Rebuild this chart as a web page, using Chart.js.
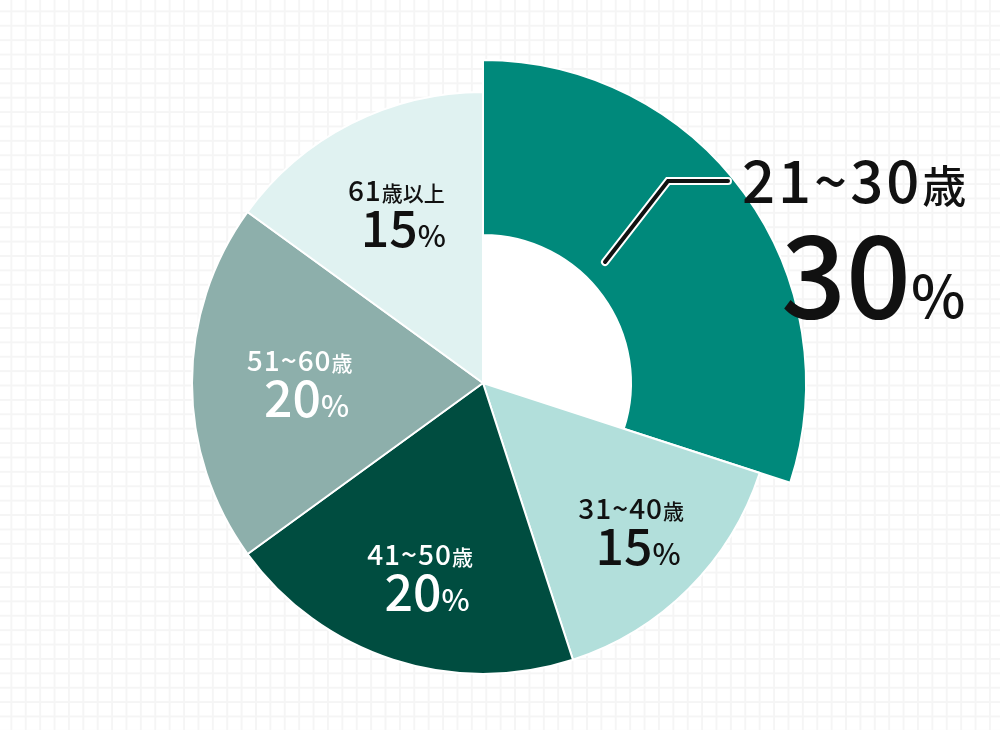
<!DOCTYPE html>
<html><head><meta charset="utf-8">
<script src="https://cdn.jsdelivr.net/npm/chart.js@4.4.1/dist/chart.umd.min.js"></script>
<style>
html,body{margin:0;padding:0;}
body{width:1000px;height:730px;overflow:hidden;background-color:#fff;
background-image:linear-gradient(#f5f5f5 2px, transparent 2px),linear-gradient(90deg,#f5f5f5 2px, transparent 2px);
background-size:14.4px 14.4px;background-position:-4px -4px;}
canvas{display:block;}
</style></head><body>
<canvas id="c" width="1000" height="730"></canvas>
<script>
const categories = ['21~30歳','31~40歳','41~50歳','51~60歳','61歳以上'];
const values = [30, 15, 20, 20, 15];
const sliceColors = ['#00897b','#b2dfdb','#004d40','#8dafab','#e0f2f1'];
const labelColors = ['#111111','#111111','#ffffff','#ffffff','#111111'];
const labelRadius = [0, 0.72, 0.70, 0.63, 0.656];

const FONT = '"Noto Sans CJK JP","Noto Sans",sans-serif';
const HL_OUTER = 323, HL_INNER = 148;

function splitName(s){ const m = s.match(/^([\d~]+)(.*)$/); return m ? [m[1], m[2]] : [s, '']; }

function drawParts(ctx, parts, x, y, align){
  // parts: [text, size, weight, letterSpacing]
  let total = 0;
  const setF = p => { ctx.font = `${p[2]} ${p[1]}px ${FONT}`; ctx.letterSpacing = (p[3]||0) + 'px'; };
  parts.forEach(p => { setF(p); p.w = ctx.measureText(p[0]).width; total += p.w; });
  let cx = align === 'center' ? x - total/2 : x;
  ctx.textAlign = 'left'; ctx.textBaseline = 'alphabetic';
  parts.forEach(p => { setF(p); ctx.fillText(p[0], cx, y); cx += p.w; });
  ctx.letterSpacing = '0px';
}

const highlight = {
  id: 'highlight',
  afterDatasetsUpdate(chart){
    const arcs = chart.getDatasetMeta(0).data;
    arcs[0].outerRadius = HL_OUTER;
    arcs[0].innerRadius = HL_INNER;
  },
  beforeDatasetsDraw(chart){
    const a = chart.getDatasetMeta(0).data[0];
    const ctx = chart.ctx;
    ctx.save(); ctx.fillStyle = '#ffffff';
    ctx.beginPath(); ctx.arc(a.x, a.y, HL_INNER, 0, Math.PI*2); ctx.fill(); ctx.restore();
  }
};

const labels = {
  id: 'labels',
  afterDatasetsDraw(chart){
    const ctx = chart.ctx;
    const arcs = chart.getDatasetMeta(0).data;
    const total = values.reduce((s,v)=>s+v,0);
    ctx.save();
    arcs.forEach((a,i)=>{
      const [num, unit] = splitName(categories[i]);
      const pct = Math.round(values[i]/total*100) + '';
      if(i === 0){
        const cx = a.x, cy = a.y;
        ctx.lineJoin = 'miter'; ctx.lineCap = 'round';
        const pts = [[cx+122, cy-121],[cx+185, cy-202],[cx+245, cy-202]];
        [[8,'#ffffff'],[4,'#111111']].forEach(([w,c])=>{
          ctx.lineWidth = w; ctx.strokeStyle = c; ctx.beginPath();
          pts.forEach((p,k)=> k ? ctx.lineTo(p[0],p[1]) : ctx.moveTo(p[0],p[1])); ctx.stroke();
        });
        ctx.fillStyle = '#111111';
        drawParts(ctx, [[num,58,500,3],[unit,44,500,0]], cx+259, cy-180, 'left');
        drawParts(ctx, [[pct,114,500,0],['%',58,500,0]], cx+298, cy-65, 'left');
        return;
      }
      const mid = (a.startAngle + a.endAngle)/2;
      const r = a.outerRadius * labelRadius[i];
      const x = a.x + r*Math.cos(mid), y = a.y + r*Math.sin(mid);
      ctx.fillStyle = labelColors[i];
      drawParts(ctx, [[num,28,500,1],[unit,21,500,0]], x, y-12, 'center');
      drawParts(ctx, [[pct,50,500,0],['%',30,500,0]], x+7, y+34, 'center');
    });
    ctx.restore();
  }
};

new Chart(document.getElementById('c').getContext('2d'), {
  type: 'doughnut',
  data: { labels: categories, datasets: [{ data: values, backgroundColor: sliceColors, borderColor: '#ffffff', borderWidth: 2 }] },
  options: {
    responsive: false, animation: false, events: [],
    radius: 291, cutout: 0,
    layout: { padding: { left: 0, right: 34, top: 36, bottom: 0 } },
    plugins: { legend: { display: false }, tooltip: { enabled: false } }
  },
  plugins: [highlight, labels]
});
</script>
</body></html>
